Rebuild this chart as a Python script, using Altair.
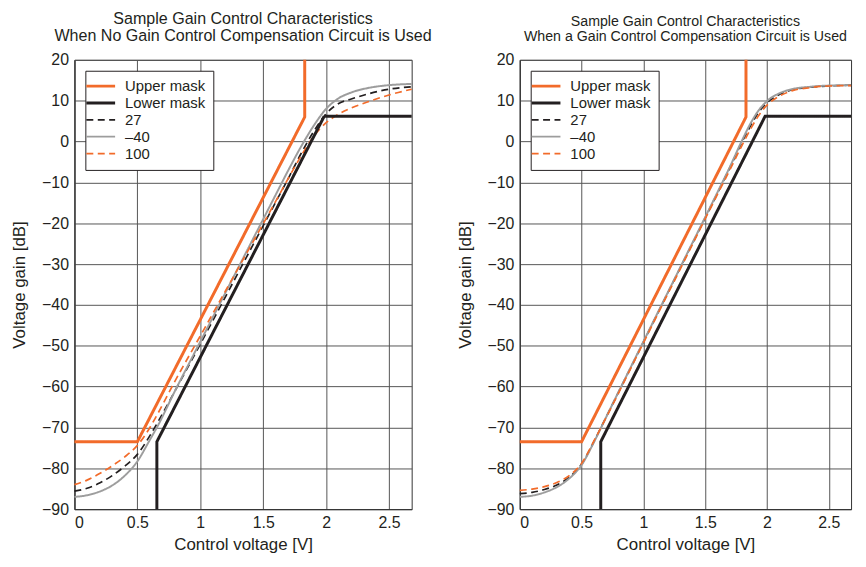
import altair as alt
import pandas as pd

FONT = "Liberation Sans, Arial, Helvetica, sans-serif"
TXT = "#231F20"

SERIES = ["Upper mask", "Lower mask", "27", "–40", "100"]
COLORS = ["#F26B2A", "#231F20", "#231F20", "#9D9D9D", "#F26B2A"]
DASHES = [[1, 0], [1, 0], [7, 4.5], [1, 0], [7, 4.5]]
WIDTHS = [3, 3, 1.7, 2, 1.7]

# masks (same in both panels)
upper_v = [0, 0.5, 1.83, 1.83]
upper_db = [-73.5, -73.5, 6.0, 20]
lower_v = [0.655, 0.655, 1.985, 2.68]
lower_db = [-90, -73.5, 6.2, 6.2]

# left panel: no compensation
left_v = [0, 0.1, 0.2, 0.3, 0.4, 0.5, 0.6, 0.65, 0.8, 1.0, 1.2, 1.4, 1.6, 1.7,
          1.8, 1.9, 2.0, 2.1, 2.2, 2.35, 2.5, 2.68]
left_27 = [-85.6, -84.9, -83.6, -81.8, -79.5, -76.6, -72.0, -69.4, -61.0, -49.6,
           -38.0, -26.4, -14.8, -9.0, -3.0, 2.4, 6.8, 9.3, 10.4, 11.8, 12.8, 13.4]
left_m40 = [-87.0, -86.6, -85.7, -84.2, -81.8, -78.3, -73.0, -70.3, -61.0, -49.0,
            -37.0, -25.0, -13.0, -7.0, -1.3, 3.8, 8.0, 10.6, 12.0, 13.2, 13.8, 14.1]
left_100 = [-84.0, -82.9, -81.3, -79.4, -77.2, -74.4, -70.0, -67.3, -58.6, -47.6,
            -36.6, -25.6, -14.6, -9.0, -3.6, 1.2, 4.6, 6.7, 8.2, 9.9, 11.4, 12.8]

# right panel: with compensation
right_v = [0, 0.1, 0.2, 0.3, 0.4, 0.5, 0.6, 0.7, 1.0, 1.3, 1.6, 1.7, 1.8, 1.87,
           1.92, 2.0, 2.1, 2.2, 2.35, 2.5, 2.68]
right_27 = [-86.2, -85.9, -85.2, -84.1, -82.2, -79.0, -73.5, -67.4, -49.1, -30.8,
            -12.6, -6.4, 0.0, 4.0, 6.6, 9.5, 11.5, 12.6, 13.3, 13.6, 13.8]
right_m40 = [-87.0, -86.7, -85.9, -84.6, -82.5, -79.2, -73.6, -67.4, -49.0, -30.7,
             -12.4, -6.2, 0.4, 4.6, 7.1, 9.9, 11.8, 12.8, 13.4, 13.7, 13.8]
right_100 = [-85.4, -85.1, -84.5, -83.5, -81.8, -78.8, -73.3, -67.5, -49.3, -31.1,
             -12.9, -6.9, -0.8, 3.2, 5.8, 8.9, 11.1, 12.4, 13.2, 13.6, 13.7]

X_TICKS = [0, 0.5, 1, 1.5, 2, 2.5]
Y_TICKS = [-90, -80, -70, -60, -50, -40, -30, -20, -10, 0, 10, 20]


def frame(name, vs, dbs):
    sw = WIDTHS[SERIES.index(name)]
    return pd.DataFrame({"series": name, "v": vs, "db": dbs,
                         "idx": list(range(len(vs))), "sw": sw})


def panel(vs, c27, cm40, c100, title_lines, title_size, width):
    masks = pd.concat([frame("Upper mask", upper_v, upper_db),
                       frame("Lower mask", lower_v, lower_db)])
    curves = pd.concat([frame("27", vs, c27), frame("–40", vs, cm40),
                        frame("100", vs, c100)])
    leg = alt.Legend(
        title=None, orient="top-left", offset=11, fillColor="white",
        strokeColor=TXT, padding=8, labelFont=FONT, labelFontSize=15,
        labelColor=TXT, symbolType="stroke", symbolSize=840, labelOffset=17,
        rowPadding=1,
        symbolStrokeWidth={"expr": "datum.value === 'Upper mask' || datum.value === 'Lower mask' ? 3 : 1.8"},
    )
    x = alt.X("v:Q", scale=alt.Scale(domain=[0, 2.68], nice=False, zero=False),
              axis=alt.Axis(values=X_TICKS, format="~g", title="Control voltage [V]",
                            titlePadding=6, labelPadding=6))
    y = alt.Y("db:Q", scale=alt.Scale(domain=[-90, 20], nice=False, zero=False),
              axis=alt.Axis(values=Y_TICKS, format="d", title="Voltage gain [dB]",
                            titlePadding=13, labelPadding=6))
    color = alt.Color("series:N", scale=alt.Scale(domain=SERIES, range=COLORS), legend=leg)
    dash = alt.StrokeDash("series:N", scale=alt.Scale(domain=SERIES, range=DASHES), legend=leg)
    swd = alt.StrokeWidth("sw:Q", scale=None)
    curve_layer = alt.Chart(curves).mark_line(interpolate="monotone").encode(
        x=x, y=y, color=color, strokeDash=dash, strokeWidth=swd, order="idx:Q")
    mask_layer = alt.Chart(masks).mark_line().encode(
        x=x, y=y, color=color, strokeDash=dash, strokeWidth=swd, order="idx:Q")
    return alt.layer(curve_layer, mask_layer).properties(
        width=width, height=453,
        title=alt.TitleParams(text=title_lines, font=FONT, fontSize=title_size,
                              fontWeight="normal", color=TXT,
                              lineHeight=title_size + 0.3,
                              offset=8, anchor="middle"))


left = panel(left_v, left_27, left_m40, left_100,
             ["Sample Gain Control Characteristics",
              "When No Gain Control Compensation Circuit is Used"], 16.2, 340)
right = panel(right_v, right_27, right_m40, right_100,
              ["Sample Gain Control Characteristics",
               "When a Gain Control Compensation Circuit is Used"], 14.3, 334)

chart = alt.hconcat(left, right, spacing=109, bounds="flush").resolve_scale(
    color="independent", strokeDash="independent"
).resolve_legend(color="independent", strokeDash="independent").properties(
    padding={"left": 2, "top": 0, "right": 0, "bottom": 0}
).configure_axis(
    labelFont=FONT, titleFont=FONT, labelFontSize=16, titleFontSize=17,
    labelColor=TXT, titleColor=TXT, titleFontWeight="normal",
    gridColor="#555555", gridWidth=1, domainColor="#333333", ticks=False,
    tickSize=0,
).configure_view(stroke="#333333", strokeWidth=1)

chart.save("out.html", embed_options={"renderer": "svg", "actions": False})
